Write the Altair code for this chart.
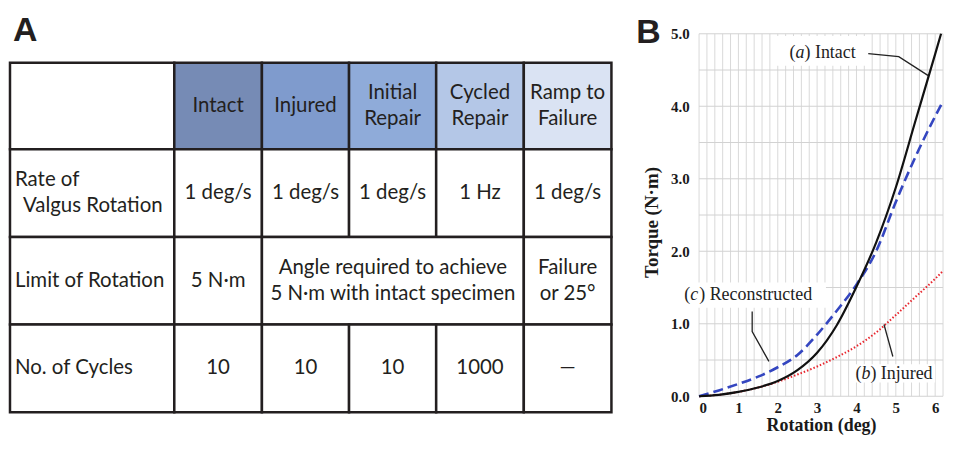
import altair as alt
import pandas as pd

# ---------------- Panel A: protocol table (values) ----------------
header_labels = ["Intact", "Injured", "Initial\nRepair", "Cycled\nRepair", "Ramp to\nFailure"]
header_colors = ["#768BB5", "#7F9BCD", "#8FABD9", "#B4C7E7", "#DAE3F3"]
row_labels = ["Rate of\n>Valgus Rotation", "Limit of Rotation", "No. of Cycles"]
rate_values = ["1 deg/s", "1 deg/s", "1 deg/s", "1 Hz", "1 deg/s"]
limit_values = ["5 N·m", "Angle required to achieve\n5 N·m with intact specimen", "Failure\nor 25°"]
limit_spans = [1, 3, 1]
cycle_values = ["10", "10", "10", "1000", "—"]
cycle_spans = [1, 1, 1, 1, 1]
rate_spans = [1, 1, 1, 1, 1]

# ---------------- Panel B: torque vs rotation ----------------
intact_rot = [0, 0.5, 1, 1.5, 2, 2.5, 3, 3.5, 4, 4.5, 5, 5.5, 6, 6.15]
intact_torque = [0, 0.02, 0.06, 0.12, 0.21, 0.36, 0.6, 0.98, 1.51, 2.12, 2.88, 3.8, 4.72, 5.0]
recon_rot = [0, 0.5, 1, 1.5, 2, 2.5, 3, 3.5, 4, 4.5, 5, 5.25, 5.6, 6.18]
recon_torque = [0, 0.08, 0.17, 0.27, 0.4, 0.57, 0.85, 1.18, 1.54, 2.0, 2.68, 3.0, 3.42, 4.05]
injured_rot = [0, 0.5, 1, 1.5, 2, 2.5, 3, 3.5, 4, 4.5, 5, 5.5, 6, 6.2]
injured_torque = [0, 0.02, 0.06, 0.12, 0.2, 0.3, 0.41, 0.54, 0.69, 0.88, 1.12, 1.37, 1.62, 1.73]

# annotation labels: (prefix, italic letter, rest), left x, y
label_parts = [("(", "a", ") Intact"), ("(", "c", ") Reconstructed"), ("(", "b", ") Injured")]
label_pos = [(2.3, 4.73), (-0.375, 1.40), (3.975, 0.30)]
label_boxes = [(1.975, 4.25, 4.56, 4.97), (-0.45, 3.225, 1.22, 1.57), (3.925, 6.0, 0.19, 0.44)]
leader_x = [[4.3, 5.075, 5.825], [1.35, 1.35, 1.775], [4.925, 4.7]]
leader_y = [[4.725, 4.684, 4.423], [1.168, 0.893, 0.481], [0.549, 0.99]]

# ================= Panel A construction =================
WL, HL = 608, 408
col_edges = [1, 166, 254, 341.5, 429, 517, 605]
row_edges = [54, 141, 229, 317, 405]
LINE = 26
INK = "#231f20"
TFONT = "Lato"
TSIZE = 20.5

cells, ctext, ltext = [], [], []


def add_text(store, s, xc, yc):
    lines = s.split("\n")
    n = len(lines)
    for i, ln in enumerate(lines):
        indent = 0
        if ln.startswith(">"):
            ln, indent = ln[1:], 8
        store.append(dict(x=xc + indent, y=yc + (i - (n - 1) / 2) * LINE, t=ln))


cells.append(dict(x=col_edges[0], x2=col_edges[1], y=row_edges[0], y2=row_edges[1], fill="#ffffff"))
for j, (lab, col) in enumerate(zip(header_labels, header_colors)):
    cells.append(dict(x=col_edges[j + 1], x2=col_edges[j + 2], y=row_edges[0], y2=row_edges[1], fill=col))
    add_text(ctext, lab, (col_edges[j + 1] + col_edges[j + 2]) / 2, (row_edges[0] + row_edges[1]) / 2)

body = [(rate_values, rate_spans), (limit_values, limit_spans), (cycle_values, cycle_spans)]
for r, (vals, spans) in enumerate(body):
    y0, y1 = row_edges[r + 1], row_edges[r + 2]
    yc = (y0 + y1) / 2
    cells.append(dict(x=col_edges[0], x2=col_edges[1], y=y0, y2=y1, fill="#ffffff"))
    add_text(ltext, row_labels[r], col_edges[0] + 5, yc)
    c = 1
    for v, s in zip(vals, spans):
        cells.append(dict(x=col_edges[c], x2=col_edges[c + s], y=y0, y2=y1, fill="#ffffff"))
        add_text(ctext, v, (col_edges[c] + col_edges[c + s]) / 2, yc)
        c += s

axA = alt.Scale(domain=[0, WL], nice=False, zero=False)
ayA = alt.Scale(domain=[0, HL], nice=False, zero=False, reverse=True)

rectA = alt.Chart(pd.DataFrame(cells)).mark_rect(stroke=INK, strokeWidth=2.5).encode(
    x=alt.X("x:Q", scale=axA, axis=None), x2="x2:Q",
    y=alt.Y("y:Q", scale=ayA, axis=None), y2="y2:Q",
    fill=alt.Fill("fill:N", scale=None),
)
ctextA = alt.Chart(pd.DataFrame(ctext)).mark_text(
    font=TFONT, fontSize=TSIZE, color=INK, align="center", baseline="middle"
).encode(x=alt.X("x:Q", scale=axA, axis=None), y=alt.Y("y:Q", scale=ayA, axis=None), text="t:N")
ltextA = alt.Chart(pd.DataFrame(ltext)).mark_text(
    font=TFONT, fontSize=TSIZE, color=INK, align="left", baseline="middle"
).encode(x=alt.X("x:Q", scale=axA, axis=None), y=alt.Y("y:Q", scale=ayA, axis=None), text="t:N")
letterA = alt.Chart(pd.DataFrame({"x": [4], "y": [32], "t": ["A"]})).mark_text(
    font="Liberation Sans", fontWeight="bold", fontSize=34, color=INK, align="left", baseline="alphabetic"
).encode(x=alt.X("x:Q", scale=axA, axis=None), y=alt.Y("y:Q", scale=ayA, axis=None), text="t:N")

panelA = alt.layer(rectA, ctextA, ltextA, letterA).properties(width=WL, height=HL)

# ================= Panel B construction =================
SERIF = "Liberation Serif"
WP = 245
xs = alt.Scale(domain=[0, 6.2], nice=False, zero=False)
ys = alt.Scale(domain=[0, 5.343], nice=False, zero=False)
xaxis = alt.Axis(values=[0, 1, 2, 3, 4, 5, 6], format="d", grid=False, domain=False, ticks=False,
                 labelPadding=4, labelFont=SERIF, labelFontWeight="bold", labelFontSize=15,
                 labelColor="#1a1a1a", titleFont=SERIF, titleFontWeight="bold", titleFontSize=18,
                 titleColor="#1a1a1a", titlePadding=1)
yaxis = alt.Axis(values=[0, 1, 2, 3, 4, 5], format=".1f", grid=False, domain=False, ticks=False,
                 labelPadding=10, labelFont=SERIF, labelFontWeight="bold", labelFontSize=15,
                 labelColor="#1a1a1a", titleFont=SERIF, titleFontWeight="bold", titleFontSize=19,
                 titleColor="#1a1a1a", titleX=-38, titleY=214)


def X(f):
    return alt.X(f, type="quantitative", scale=xs, axis=xaxis, title="Rotation (deg)")


def Y(f):
    return alt.Y(f, type="quantitative", scale=ys, axis=yaxis, title="Torque (N·m)")


vx = [round(0.2 * i, 1) for i in range(32)]
hy = [0.5 * i for i in range(11)]
gridV = alt.Chart(pd.DataFrame({"x": vx, "y": 0.0, "y2": 5.0})).mark_rule(
    color="#d9d9d9", strokeWidth=1).encode(x=X("x"), y=Y("y"), y2="y2")
gridH = alt.Chart(pd.DataFrame({"y": hy, "x": 0.0, "x2": 6.2})).mark_rule(
    color="#d2d2d2", strokeWidth=1).encode(y=Y("y"), x=X("x"), x2="x2")

boxes = alt.Chart(pd.DataFrame(
    [dict(x=b[0], x2=b[1], y=b[2], y2=b[3]) for b in label_boxes])).mark_rect(
    fill="white").encode(x=X("x"), x2="x2", y=Y("y"), y2="y2")

injured = alt.Chart(pd.DataFrame({"r": injured_rot, "t": injured_torque})).mark_line(
    color="#e8262e", strokeWidth=2, strokeDash=[1.5, 2], interpolate="monotone").encode(x=X("r"), y=Y("t"))
recon = alt.Chart(pd.DataFrame({"r": recon_rot, "t": recon_torque})).mark_line(
    color="#3446c0", strokeWidth=2.6, strokeDash=[10, 5], interpolate="monotone").encode(x=X("r"), y=Y("t"))
intact = alt.Chart(pd.DataFrame({"r": intact_rot, "t": intact_torque})).mark_line(
    color="#111111", strokeWidth=2.2, interpolate="monotone").encode(x=X("r"), y=Y("t"))

lead_rows = []
for k, (lx, ly) in enumerate(zip(leader_x, leader_y)):
    for i, (a, b) in enumerate(zip(lx, ly)):
        lead_rows.append(dict(k=k, i=i, x=a, y=b))
leaders = alt.Chart(pd.DataFrame(lead_rows)).mark_line(color="#222222", strokeWidth=1.3).encode(
    x=X("x"), y=Y("y"), detail="k:N", order="i:Q")

LSIZE = 18
lab_rows = []
for (p, l, rest), (lx, ly) in zip(label_parts, label_pos):
    lab_rows.append(dict(x=lx, y=ly, p=p, l=l, rest=rest))
labdf = pd.DataFrame(lab_rows)
lab1 = alt.Chart(labdf).mark_text(font=SERIF, fontSize=LSIZE, color="#222", align="left",
                                  baseline="middle").encode(x=X("x"), y=Y("y"), text="p:N")
lab2 = alt.Chart(labdf).mark_text(font=SERIF, fontSize=LSIZE, fontStyle="italic", color="#222",
                                  align="left", baseline="middle", dx=6.0).encode(x=X("x"), y=Y("y"), text="l:N")
lab3 = alt.Chart(labdf).mark_text(font=SERIF, fontSize=LSIZE, color="#222", align="left",
                                  baseline="middle", dx=15.0).encode(x=X("x"), y=Y("y"), text="rest:N")

letterB = alt.Chart(pd.DataFrame({"t": ["B"]})).mark_text(
    font="Liberation Sans", fontWeight="bold", fontSize=34, color=INK, align="left", baseline="alphabetic"
).encode(x=alt.value(-63), y=alt.value(34), text="t:N")

panelB = alt.layer(gridV, gridH, boxes, injured, recon, intact, leaders, lab1, lab2, lab3, letterB).properties(
    width=WP, height=389)

chart = alt.hconcat(panelA, panelB, spacing=22).properties(padding=0).configure_view(stroke=None)
chart.save("out.html", embed_options={"renderer": "svg", "actions": False})
